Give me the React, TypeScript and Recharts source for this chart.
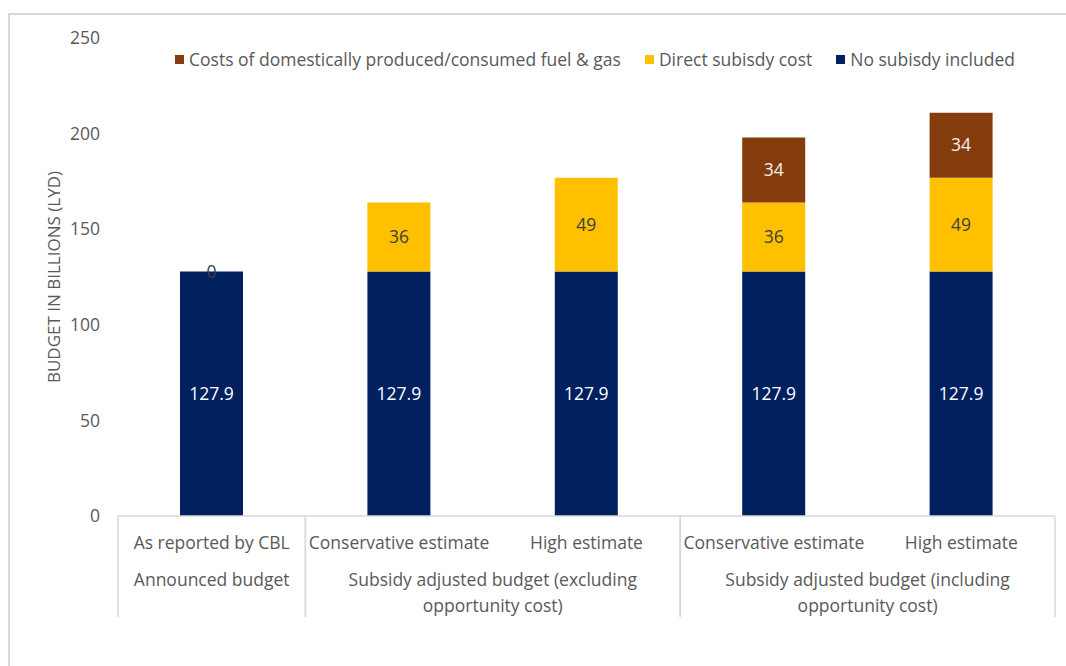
import { BarChart, Bar, XAxis, YAxis, Legend, LabelList } from "recharts";

const categories = ["As reported by CBL", "Conservative estimate", "High estimate", "Conservative estimate", "High estimate"];
const groupOf = [0, 1, 1, 2, 2];
const groupLabels = [
  ["Announced budget"],
  ["Subsidy adjusted budget (excluding", "opportunity cost)"],
  ["Subsidy adjusted budget (including", "opportunity cost)"],
];
const noSubsidy = [127.9, 127.9, 127.9, 127.9, 127.9];
const directSubsidy = [0, 36, 49, 36, 49];
const domesticCost = [null, null, null, 34, 34];
const yTicks = [0, 50, 100, 150, 200, 250];

const series = [
  { key: "domestic", name: "Costs of domestically produced/consumed fuel & gas", color: "#843C0C", label: "#f2f2f2" },
  { key: "direct", name: "Direct subisdy cost", color: "#FFC000", label: "#404040" },
  { key: "base", name: "No subisdy included", color: "#002060", label: "#ffffff" },
];

const data = categories.map((c, i) => ({
  id: "c" + i,
  base: noSubsidy[i],
  direct: directSubsidy[i],
  domestic: domesticCost[i],
}));

const FONT = "'Open Sans', sans-serif";
const FS = 17.5;
const TEXT = "#595959";
const LINE = "#d9d9d9";
const W = 1066;
const H = 666;
const PLOT_LEFT = 118;
const PLOT_RIGHT = 1055;
const BAND = (PLOT_RIGHT - PLOT_LEFT) / categories.length;
const AXIS_H = 101;

function CategoryTick(props: any) {
  const { x, y, payload } = props;
  const i = payload.index;
  const g = groupOf[i];
  const first = i === 0 || groupOf[i - 1] !== g;
  const last = i === categories.length - 1 || groupOf[i + 1] !== g;
  const size = groupOf.filter((v) => v === g).length;
  const gx = x + ((size - 1) * BAND) / 2;
  return (
    <g>
      <text x={x} y={y + 26} textAnchor="middle" dominantBaseline="central" fill={TEXT} fontSize={FS} fontFamily={FONT}>
        {categories[i]}
      </text>
      {first && (
        <>
          <line x1={x - BAND / 2} x2={x - BAND / 2} y1={y} y2={y + AXIS_H} stroke={LINE} strokeWidth={1.5} />
          {groupLabels[g].map((t, k) => (
            <text key={k} x={gx} y={y + 63 + k * 26} textAnchor="middle" dominantBaseline="central" fill={TEXT} fontSize={FS} fontFamily={FONT}>
              {t}
            </text>
          ))}
        </>
      )}
      {last && <line x1={x + BAND / 2} x2={x + BAND / 2} y1={y} y2={y + AXIS_H} stroke={LINE} strokeWidth={1.5} />}
    </g>
  );
}

// zero-height segments get no label of their own, so show a 0 on top of the base bar
function ZeroLabel(props: any) {
  const { x, y, width, value } = props;
  if (value !== 0) return null;
  return (
    <text x={x + width / 2} y={y} textAnchor="middle" dominantBaseline="central" fill="#404040" fontSize={FS} fontFamily={FONT}>
      {value}
    </text>
  );
}

function TopLegend() {
  return (
    <div style={{ display: "flex", alignItems: "center", paddingLeft: 175, fontFamily: FONT, fontSize: FS, color: TEXT }}>
      {series.map((s) => (
        <div key={s.key} style={{ display: "flex", alignItems: "center", marginRight: 24 }}>
          <span style={{ width: 9, height: 9, background: s.color, marginRight: 5, display: "inline-block" }} />
          <span>{s.name}</span>
        </div>
      ))}
    </div>
  );
}

function AxisTitle(props: any) {
  const vb = props.viewBox;
  const cy = vb.y + vb.height / 2;
  const cx = 53;
  return (
    <text x={cx} y={cy} transform={`rotate(-90 ${cx} ${cy})`} textAnchor="middle" dominantBaseline="central" fill={TEXT} fontSize={17} fontFamily={FONT}>
      BUDGET IN BILLIONS (LYD)
    </text>
  );
}

export default function App() {
  return (
    <div style={{ position: "absolute", left: 0, top: 0, width: W, height: H, overflow: "hidden", background: "#fff" }}>
      <div style={{ position: "absolute", left: 8, top: 13, width: W, height: H, borderTop: `2px solid ${LINE}`, borderLeft: `2px solid ${LINE}` }} />
      <BarChart width={W} height={H} data={data} margin={{ top: 38, right: W - PLOT_RIGHT, bottom: H - 516 - AXIS_H, left: 0 }} barSize={63}>
        <XAxis
          dataKey="id"
          height={AXIS_H}
          tickLine={false}
          tickSize={0}
          tickMargin={0}
          axisLine={{ stroke: LINE, strokeWidth: 1.5 }}
          tick={<CategoryTick />}
          interval={0}
        />
        <YAxis
          width={PLOT_LEFT}
          domain={[0, 250]}
          ticks={yTicks}
          axisLine={false}
          tickLine={false}
          tickSize={0}
          tickMargin={18}
          tick={{ fill: TEXT, fontSize: FS, fontFamily: FONT }}
          label={<AxisTitle />}
        />
        <Legend
          layout="horizontal"
          verticalAlign="middle"
          align="center"
          wrapperStyle={{ top: 47, left: 0, width: W }}
          content={() => <TopLegend />}
        />
        {[...series].reverse().map((s) => (
          <Bar key={s.key} dataKey={s.key} name={s.name} stackId="a" fill={s.color} isAnimationActive={false}>
            <LabelList dataKey={s.key} position="center" fill={s.label} fontSize={FS} fontFamily={FONT} />
            {s.key === "base" && <LabelList dataKey="direct" content={<ZeroLabel />} />}
          </Bar>
        ))}
      </BarChart>
    </div>
  );
}
